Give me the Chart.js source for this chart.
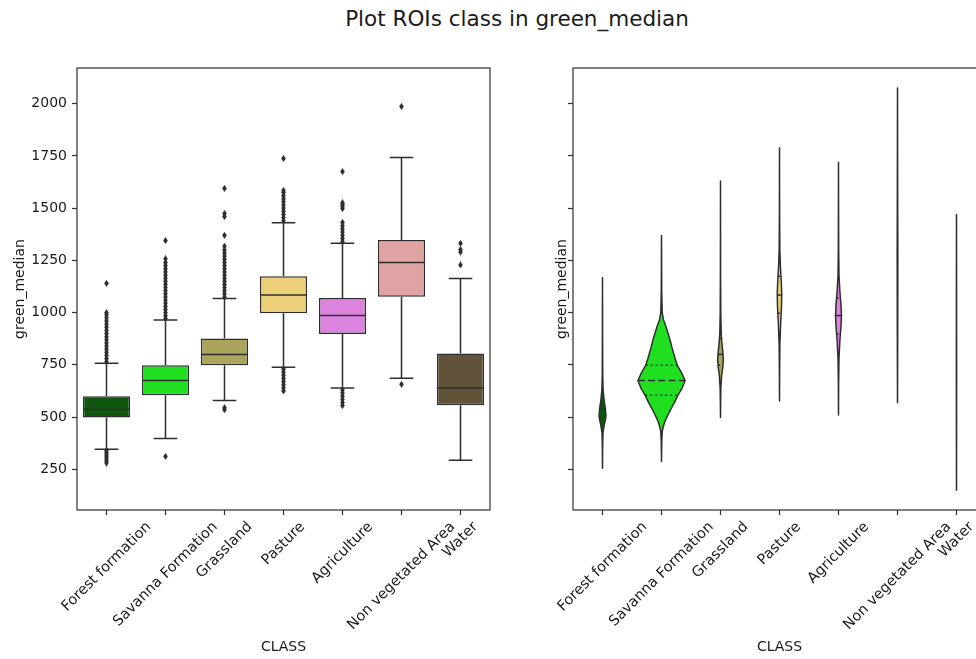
<!DOCTYPE html>
<html>
<head>
<meta charset="utf-8">
<script src="https://cdn.jsdelivr.net/npm/chart.js@4.4.0/dist/chart.umd.min.js"></script>
<style>
  body { margin: 0; background: #fff; overflow: hidden; }
  #fig { position: relative; width: 1034px; height: 659px; }
  #title { position: absolute; left: 0; top: 7px; width: 1034px; text-align: center;
           font: 21.5px "DejaVu Sans"; line-height: 24px; color: #1a1a1a; }
  #boxCanvas { position: absolute; left: 0; top: 0; }
  #violinCanvas { position: absolute; left: 530px; top: 0; }
</style>
</head>
<body>
<div id="fig">
  <div id="title">Plot ROIs class in green_median</div>
  <canvas id="boxCanvas" width="510" height="659"></canvas>
  <canvas id="violinCanvas" width="504" height="659"></canvas>
</div>
<script>
// categories and colours
const classes = ['Forest formation', 'Savanna Formation', 'Grassland', 'Pasture', 'Agriculture', 'Non vegetated Area', 'Water'];
const classColors = ['#0c570c', '#20df20', '#aba45c', '#eccf79', '#db83de', '#e0a3a3', '#60533a'];

// box statistics (green_median)
const q1 = [498, 604, 748, 997, 898, 1076, 556];
const medians = [537, 675, 800, 1084, 986, 1240, 639];
const q3 = [600, 748, 876, 1174, 1070, 1347, 804];
const whiskerLow = [346, 397, 579, 738, 639, 686, 293];
const whiskerHigh = [757, 965, 1068, 1430, 1332, 1742, 1163];

// fliers
const forestOutliers = [765, 780, 795, 810, 825, 840, 855, 870, 885, 900, 915, 930, 945, 960, 975, 990, 1000, 1140, 340, 330, 320, 310, 300, 290, 280];
const savannaOutliers = [972, 985, 1000, 1015, 1030, 1045, 1060, 1075, 1090, 1105, 1120, 1135, 1150, 1165, 1180, 1195, 1210, 1225, 1240, 1258, 1345, 312];
const grasslandOutliers = [1075, 1090, 1105, 1120, 1135, 1150, 1165, 1180, 1195, 1210, 1225, 1240, 1255, 1270, 1285, 1300, 1318, 1370, 1460, 1475, 1595, 545, 535];
const pastureOutliers = [1440, 1455, 1470, 1485, 1500, 1515, 1530, 1545, 1560, 1575, 1585, 1738, 730, 715, 700, 685, 670, 655, 640, 625];
const agricultureOutliers = [1340, 1355, 1370, 1385, 1400, 1415, 1432, 1498, 1508, 1518, 1526, 1675, 630, 615, 600, 585, 570, 555];
const nonVegOutliers = [1987, 657];
const waterOutliers = [1228, 1290, 1302, 1332];
const outliers = [forestOutliers, savannaOutliers, grasslandOutliers, pastureOutliers, agricultureOutliers, nonVegOutliers, waterOutliers];

// violin profiles: [green_median, relative half width]
const forestViolin = [[255, 0], [350, 0.005], [425, 0.02], [460, 0.07], [490, 0.13], [508, 0.145], [540, 0.12], [580, 0.07], [630, 0.025], [700, 0.01], [850, 0.005], [1000, 0.002], [1167, 0]];
const savannaViolin = [[287, 0], [380, 0.01], [430, 0.03], [455, 0.08], [475, 0.13], [505, 0.25], [537, 0.39], [570, 0.55], [604, 0.69], [640, 0.88], [675, 1.0], [705, 0.88], [748, 0.67], [779, 0.58], [830, 0.45], [870, 0.36], [904, 0.27], [936, 0.18], [967, 0.08], [1000, 0.03], [1100, 0.01], [1250, 0.004], [1369, 0]];
const grasslandViolin = [[498, 0], [560, 0.005], [640, 0.015], [700, 0.05], [740, 0.1], [775, 0.12], [810, 0.1], [850, 0.06], [900, 0.03], [1000, 0.012], [1150, 0.005], [1400, 0.002], [1630, 0]];
const pastureViolin = [[577, 0], [700, 0.004], [850, 0.015], [950, 0.05], [1030, 0.085], [1090, 0.095], [1150, 0.075], [1230, 0.035], [1300, 0.015], [1450, 0.005], [1600, 0.002], [1789, 0]];
const agricultureViolin = [[510, 0], [650, 0.005], [780, 0.02], [870, 0.06], [940, 0.11], [985, 0.125], [1030, 0.11], [1100, 0.06], [1180, 0.02], [1300, 0.008], [1500, 0.003], [1720, 0]];
const nonVegViolin = [[570, 0], [900, 0.008], [1270, 0.014], [1600, 0.006], [2075, 0]];
const waterViolin = [[150, 0], [500, 0.004], [700, 0.006], [1000, 0.004], [1470, 0]];
const violinProfiles = [forestViolin, savannaViolin, grasslandViolin, pastureViolin, agricultureViolin, nonVegViolin, waterViolin];

// y axis
const yTicks = [250, 500, 750, 1000, 1250, 1500, 1750, 2000];
const yMin = 55;
const yMax = 2171;

const EDGE = '#2e2e2e';
const TEXT = '#1a1a1a';
Chart.defaults.font.family = '"DejaVu Sans"';
Chart.defaults.font.size = 14;
Chart.defaults.color = TEXT;

// thin diamond flier marker
const diamond = document.createElement('canvas');
diamond.width = 5; diamond.height = 7;
(() => {
    const c = diamond.getContext('2d');
    c.fillStyle = EDGE;
    c.beginPath();
    c.moveTo(2.5, 0); c.lineTo(4.8, 3.5); c.lineTo(2.5, 7); c.lineTo(0.2, 3.5);
    c.closePath(); c.fill();
})();

// matplotlib style frame round the axes
const frame = {
    id: 'frame',
    afterDraw(chart) {
        const {ctx, chartArea: a} = chart;
        ctx.save();
        ctx.strokeStyle = EDGE;
        ctx.lineWidth = 1.2;
        ctx.strokeRect(a.left, a.top, a.right - a.left, a.bottom - a.top);
        ctx.restore();
    }
};

// x labels rotated 45 deg, centred on the tick like matplotlib
const rotatedLabels = {
    id: 'rotatedLabels',
    afterDraw(chart) {
        const {ctx} = chart;
        const x = chart.scales.x;
        ctx.save();
        ctx.font = '14.5px "DejaVu Sans"';
        ctx.fillStyle = TEXT;
        ctx.textAlign = 'center';
        ctx.textBaseline = 'middle';
        const top = x.top + 9;
        classes.forEach((label, i) => {
            const w = ctx.measureText(label).width;
            const half = (w + 16) * Math.SQRT1_2 / 2;
            ctx.save();
            ctx.translate(x.getPixelForValue(i), top + half);
            ctx.rotate(-Math.PI / 4);
            ctx.fillText(label, 0, 0);
            ctx.restore();
        });
        ctx.restore();
    }
};

// whiskers, caps and medians
const boxParts = {
    id: 'boxParts',
    beforeDatasetsDraw(chart) {
        const {ctx} = chart;
        const {x, y} = chart.scales;
        const bars = chart.getDatasetMeta(1).data;
        ctx.save();
        ctx.strokeStyle = EDGE;
        ctx.lineWidth = 1.5;
        classes.forEach((c, i) => {
            const cx = x.getPixelForValue(i);
            const cap = bars[i].width / 4;
            const hi = y.getPixelForValue(whiskerHigh[i]);
            const lo = y.getPixelForValue(whiskerLow[i]);
            ctx.beginPath();
            ctx.moveTo(cx, y.getPixelForValue(q3[i])); ctx.lineTo(cx, hi);
            ctx.moveTo(cx, y.getPixelForValue(q1[i])); ctx.lineTo(cx, lo);
            ctx.moveTo(cx - cap, hi); ctx.lineTo(cx + cap, hi);
            ctx.moveTo(cx - cap, lo); ctx.lineTo(cx + cap, lo);
            ctx.stroke();
        });
        ctx.restore();
    },
    afterDatasetsDraw(chart) {
        const {ctx} = chart;
        const {x, y} = chart.scales;
        const bars = chart.getDatasetMeta(1).data;
        ctx.save();
        ctx.strokeStyle = EDGE;
        ctx.lineWidth = 1.5;
        classes.forEach((c, i) => {
            const cx = x.getPixelForValue(i);
            const half = bars[i].width / 2;
            const my = y.getPixelForValue(medians[i]);
            ctx.beginPath();
            ctx.moveTo(cx - half, my); ctx.lineTo(cx + half, my);
            ctx.stroke();
        });
        ctx.restore();
    }
};

const widthAt = (prof, v) => {
    for (let k = 1; k < prof.length; k++) {
        if (v <= prof[k][0]) {
            const [v0, d0] = prof[k - 1], [v1, d1] = prof[k];
            return d0 + (d1 - d0) * (v - v0) / (v1 - v0);
        }
    }
    return 0;
};

// violins with quartile lines
const violins = {
    id: 'violins',
    afterDatasetsDraw(chart) {
        const {ctx} = chart;
        const {x, y} = chart.scales;
        const maxHalf = (x.getPixelForValue(1) - x.getPixelForValue(0)) * 0.4;
        ctx.save();
        violinProfiles.forEach((prof, i) => {
            const cx = x.getPixelForValue(i);
            ctx.beginPath();
            prof.forEach(([v, d], k) => {
                const px = cx + d * maxHalf, py = y.getPixelForValue(v);
                if (k) ctx.lineTo(px, py); else ctx.moveTo(px, py);
            });
            for (let k = prof.length - 1; k >= 0; k--) {
                ctx.lineTo(cx - prof[k][1] * maxHalf, y.getPixelForValue(prof[k][0]));
            }
            ctx.closePath();
            ctx.fillStyle = classColors[i];
            ctx.fill();
            ctx.strokeStyle = EDGE;
            ctx.lineWidth = 1.5;
            ctx.lineJoin = 'round';
            ctx.stroke();

            [q1[i], medians[i], q3[i]].forEach((v, j) => {
                const half = widthAt(prof, v) * maxHalf;
                if (half < 0.5) return;
                const py = y.getPixelForValue(v);
                ctx.setLineDash(j === 1 ? [7, 3.2] : [2, 3]);
                ctx.lineWidth = 1.5;
                ctx.beginPath();
                ctx.moveTo(cx - half, py); ctx.lineTo(cx + half, py);
                ctx.stroke();
            });
            ctx.setLineDash([]);
        });
        ctx.restore();
    }
};

const tickGrid = {display: true, drawOnChartArea: false, drawTicks: true, tickLength: 5, tickWidth: 1.2, tickColor: EDGE, offset: false};

const makeScales = (yTitlePad, showYLabels) => ({
    x: {
        type: 'category',
        offset: true,
        grid: tickGrid,
        border: {display: false},
        ticks: {display: false},
        title: {display: true, text: 'CLASS', color: TEXT, font: {size: 14}, padding: {bottom: 3}},
        afterFit: (s) => { s.height = 149; }
    },
    y: {
        min: yMin,
        max: yMax,
        grid: tickGrid,
        border: {display: false},
        ticks: {display: showYLabels, padding: 5, color: TEXT, callback: (v) => String(v)},
        afterBuildTicks: (s) => { s.ticks = yTicks.map(v => ({value: v})); },
        title: {display: true, text: 'green_median', color: TEXT, font: {size: 14}, padding: {top: yTitlePad}},
        afterFit: (s) => { s.width = showYLabels ? 77 : 43; }
    }
});

new Chart(document.getElementById('boxCanvas'), {
    type: 'bar',
    data: {
        labels: classes,
        datasets: [
            {
                type: 'scatter',
                data: outliers.flatMap((vals, i) => vals.map(v => ({x: classes[i], y: v}))),
                pointStyle: diamond,
                pointRadius: 3,
                backgroundColor: EDGE,
                borderColor: EDGE
            },
            {
                type: 'bar',
                data: classes.map((c, i) => [q1[i], q3[i]]),
                backgroundColor: classColors,
                borderColor: EDGE,
                borderWidth: 1.5,
                borderSkipped: false,
                barPercentage: 0.8,
                categoryPercentage: 1.0
            }
        ]
    },
    options: {
        responsive: false,
        animation: false,
        layout: {padding: {top: 68, right: 20, left: 0, bottom: 0}},
        plugins: {legend: {display: false}, tooltip: {enabled: false}},
        scales: makeScales(12, true)
    },
    plugins: [boxParts, rotatedLabels, frame]
});

new Chart(document.getElementById('violinCanvas'), {
    type: 'bar',
    data: {labels: classes, datasets: []},
    options: {
        responsive: false,
        animation: false,
        layout: {padding: {top: 68, right: 48, left: 0, bottom: 0}},
        plugins: {legend: {display: false}, tooltip: {enabled: false}},
        scales: makeScales(24, false)
    },
    plugins: [violins, rotatedLabels, frame]
});
</script>
</body>
</html>
